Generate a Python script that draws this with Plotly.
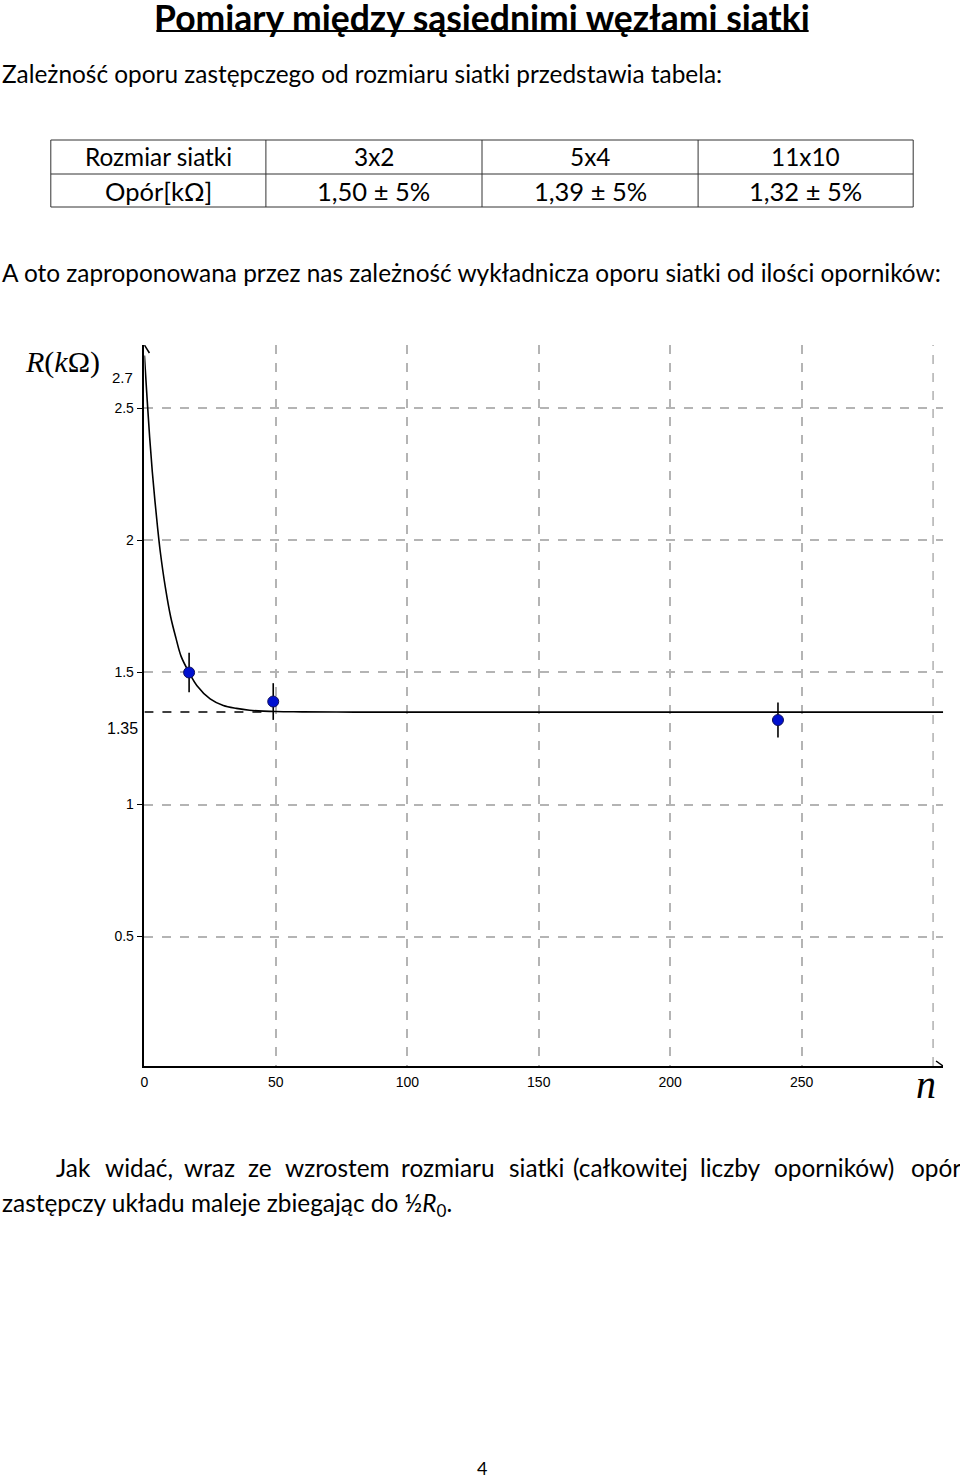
import plotly.graph_objects as go

# ---------------- data ----------------
table_header = ["Rozmiar siatki", "3x2", "5x4", "11x10"]
table_row = ["Opór[kΩ]", "1,50 ± 5%", "1,39 ± 5%", "1,32 ± 5%"]

n_meas = [17, 49, 241]           # number of resistors in the grid
R_meas = [1.50, 1.39, 1.32]      # kΩ
R_err_pct = 5

curve_n = [0, 1, 2, 3, 4, 5, 6, 8, 10, 12, 14, 17, 20, 25, 30, 35, 40, 50, 60, 80, 100, 150, 200, 250, 304]
curve_R = [2.70, 2.54, 2.39, 2.26, 2.15, 2.05, 1.96, 1.82, 1.71, 1.63, 1.56, 1.50, 1.45, 1.40,
           1.375, 1.364, 1.357, 1.352, 1.351, 1.35, 1.35, 1.35, 1.35, 1.35, 1.35]

asym_n = [0, 47]
asym_R = [1.35, 1.35]

x_ticks = [0, 50, 100, 150, 200, 250]
x_ticktext = ["0", "50", "100", "150", "200", "250"]
x_extra_grid = [300]
y_ticks = [0.5, 1, 1.5, 2, 2.5]
y_ticktext = ["0.5", "1", "1.5", "2", "2.5"]

title_text = "Pomiary między sąsiednimi węzłami siatki"
intro_text = "Zależność oporu zastępczego od rozmiaru siatki przedstawia tabela:"
mid_text = "A oto zaproponowana przez nas zależność wykładnicza oporu siatki od ilości oporników:"
para_line1 = ["Jak", "widać,", "wraz", "ze", "wzrostem", "rozmiaru", "siatki", "(całkowitej", "liczby", "oporników)", "opór"]
para_line2 = "zastępczy układu maleje zbiegając do ½<i>R</i><sub>0</sub>."

# ---------------- layout helpers ----------------
W, H = 960, 1480
def px(x): return x / W
def py(y): return 1 - y / H

BODY = "Lato"
BS = 24.4
fig = go.Figure()

# curve
fig.add_trace(go.Scatter(x=curve_n, y=curve_R, mode="lines", line=dict(color="black", width=1.6, shape="spline"),
                         hoverinfo="skip", showlegend=False))
# asymptote dashed
fig.add_trace(go.Scatter(x=asym_n, y=asym_R, mode="lines", line=dict(color="black", width=1.5, dash="dash"),
                         showlegend=False))
# measurements
fig.add_trace(go.Scatter(
    x=n_meas, y=R_meas, mode="markers",
    marker=dict(color="#0010d0", size=11, line=dict(color="#10105a", width=1)),
    error_y=dict(type="percent", value=R_err_pct, color="black", thickness=1.6, width=0),
    showlegend=False))

fig.update_layout(
    width=W, height=H, margin=dict(l=0, r=0, t=0, b=0),
    paper_bgcolor="white", plot_bgcolor="white", showlegend=False,
    xaxis=dict(domain=[px(141), px(943)], range=[0, 303.8], tickvals=x_ticks, ticktext=x_ticktext,
               showgrid=True, gridcolor="#b4b4b4", griddash="dash", gridwidth=1.6,
               showline=True, linecolor="black", linewidth=1.5, zeroline=False,
               ticks="", ticklabelstandoff=2,
               tickfont=dict(family="Liberation Sans", size=14, color="black")),
    yaxis=dict(domain=[py(1066), py(345)], range=[0.01, 2.74], tickvals=y_ticks, ticktext=y_ticktext,
               showgrid=True, gridcolor="#b4b4b4", griddash="dash", gridwidth=1.6,
               showline=True, linecolor="black", linewidth=1.5, zeroline=False,
               ticks="outside", ticklen=6, tickcolor="black", tickwidth=1.2,
               tickfont=dict(family="Liberation Sans", size=14, color="black")),
)

shapes = []
for xg in x_extra_grid:
    shapes.append(dict(type="line", xref="x", yref="y", x0=xg, x1=xg, y0=0.01, y1=2.74, layer="below",
                       line=dict(color="#b4b4b4", width=1.6, dash="dash")))
# arrow heads
for (xa, ya, pts) in [(303.8, 0.01, [(-7, 5), (0, 0), (-7, -5)]), (0, 2.74, [(-5, -8), (0, 0), (5, -8)])]:
    for i in range(2):
        shapes.append(dict(type="line", xref="x", yref="y", xsizemode="pixel", ysizemode="pixel",
                           xanchor=xa, yanchor=ya, x0=pts[i][0], y0=pts[i][1], x1=pts[i + 1][0], y1=pts[i + 1][1],
                           line=dict(color="black", width=1.5)))
# title underline
shapes.append(dict(type="line", xref="paper", yref="paper", x0=px(153), x1=px(808), y0=py(31), y1=py(31),
                   line=dict(color="black", width=2)))
# table grid
TL, TR, TT, TM, TB = 47, 913, 140, 174, 207
col_x = [47, 263, 480, 697, 913]
for y in (TT, TM, TB):
    shapes.append(dict(type="line", xref="paper", yref="paper", x0=px(TL), x1=px(TR), y0=py(y), y1=py(y),
                       line=dict(color="#333", width=1)))
for x in col_x:
    shapes.append(dict(type="line", xref="paper", yref="paper", x0=px(x), x1=px(x), y0=py(TT), y1=py(TB),
                       line=dict(color="#333", width=1)))
fig.update_layout(shapes=shapes)

ann = []
def text(x, y, s, size=BS, family=BODY, xanchor="left", color="black"):
    ann.append(dict(x=px(x), y=py(y), xref="paper", yref="paper", text=s, showarrow=False,
                    xanchor=xanchor, yanchor="middle", borderpad=0,
                    font=dict(family=family, size=size, color=color)))

text(480, 18, "<b>" + title_text + "</b>", size=35.5, xanchor="center")
text(-3, 73, intro_text)
for i in range(4):
    cx = (col_x[i] + col_x[i + 1]) / 2
    text(cx, 157, table_header[i], xanchor="center")
    text(cx, 191, table_row[i], size=25.5, xanchor="center")
text(-3, 272, mid_text)

# chart annotations
text(59, 362, "<i>R</i>(<i>k</i>Ω)", size=30, family="Liberation Serif", xanchor="center")
text(131, 378, "2.7", size=15, family="Liberation Sans", xanchor="right")
text(136, 728, "1.35", size=16, family="Liberation Sans", xanchor="right")
text(926, 1084, "<i>n</i>", size=40, family="Liberation Serif", xanchor="center")

# paragraph (justified line: words placed individually)
word_x = [51, 100, 180, 244, 281, 398, 506, 570, 698, 772]
for w, x in zip(para_line1[:-1], word_x):
    text(x, 1167, w)
text(962, 1167, para_line1[-1], xanchor="right")
text(-3, 1204, para_line2)
text(480, 1468, "4", size=18, xanchor="center")

fig.update_layout(annotations=ann)
fig.write_html("out.html")
